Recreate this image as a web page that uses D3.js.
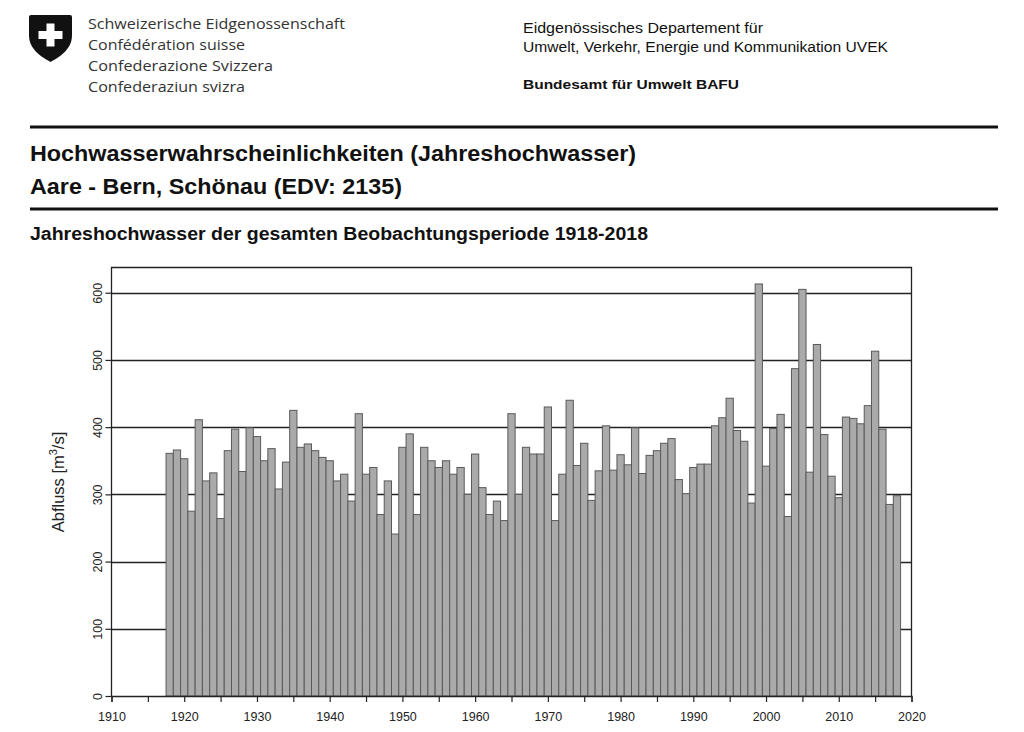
<!DOCTYPE html>
<html>
<head>
<meta charset="utf-8">
<script src="https://cdn.jsdelivr.net/npm/d3@7"></script>
<style>
  html, body { margin: 0; padding: 0; background: #fff; }
  svg { display: block; }
</style>
</head>
<body>
<svg id="chart" width="1024" height="732"></svg>
<script>
// ---------------- data ----------------
const years = d3.range(1918, 2019);
const peakFlow = [
  361, 366, 353, 275, 411, 320, 332, 264, 365, 397,
  334, 399, 386, 350, 368, 308, 348, 425, 370, 375,
  365, 355, 350, 320, 330, 290, 420, 330, 340, 270,
  320, 241, 370, 390, 270, 370, 350, 340, 350, 330,
  340, 300, 360, 310, 270, 290, 261, 420, 300, 370,
  360, 360, 430, 261, 330, 440, 343, 376, 291, 335,
  402, 336, 359, 344, 399, 331, 358, 365, 376, 383,
  322, 301, 340, 345, 345, 402, 414, 443, 395, 379,
  287, 613, 342, 398, 419, 267, 487, 605, 333, 523,
  389, 327, 295, 415, 413, 405, 432, 513, 397, 285,
  298
];
const xTicks = [1910, 1915, 1920, 1925, 1930, 1935, 1940, 1945, 1950, 1955, 1960, 1965, 1970, 1975, 1980, 1985, 1990, 1995, 2000, 2005, 2010, 2015, 2020];
const xLabelTicks = [1910, 1920, 1930, 1940, 1950, 1960, 1970, 1980, 1990, 2000, 2010, 2020];
const yTicks = [0, 100, 200, 300, 400, 500, 600];
const gridValues = [100, 200, 300, 400, 500, 600];

const headerLeft = ["Schweizerische Eidgenossenschaft", "Confédération suisse", "Confederazione Svizzera", "Confederaziun svizra"];
const headerRight = ["Eidgenössisches Departement für", "Umwelt, Verkehr, Energie und Kommunikation UVEK"];
const officeName = "Bundesamt für Umwelt BAFU";
const title1 = "Hochwasserwahrscheinlichkeiten (Jahreshochwasser)";
const title2 = "Aare - Bern, Schönau (EDV: 2135)";
const subtitle = "Jahreshochwasser der gesamten Beobachtungsperiode 1918-2018";

// ---------------- drawing ----------------
const svg = d3.select("#chart");
const sans = "'Liberation Sans', Arial, Helvetica, sans-serif";
const frut = "'Open Sans', 'Noto Sans', sans-serif";

// Swiss shield logo
const logo = svg.append("g");
logo.append("path")
  .attr("d", "M31,15 H70 Q72,15 72,17 V35 C72,49 61,56 50.5,62 C40,56 29,49 29,35 V17 Q29,15 31,15 Z")
  .attr("fill", "#111");
logo.append("path")
  .attr("d", "M46.5,23.5 H54.5 V31 H62.5 V39 H54.5 V46.5 H46.5 V39 H38.5 V31 H46.5 Z")
  .attr("fill", "#fff");

// header left
const hlLengths = [257, 157, 185, 157];
headerLeft.forEach((t, i) => {
  svg.append("text")
    .attr("x", 88).attr("y", 29 + i * 21)
    .attr("font-family", frut).attr("font-size", 14.5)
    .attr("fill", "#333")
    .attr("textLength", hlLengths[i]).attr("lengthAdjust", "spacingAndGlyphs")
    .text(t);
});

// header right
const hrLengths = [240, 365];
headerRight.forEach((t, i) => {
  svg.append("text")
    .attr("x", 523).attr("y", 33 + i * 18.5)
    .attr("font-family", sans).attr("font-size", 14)
    .attr("fill", "#111")
    .attr("textLength", hrLengths[i]).attr("lengthAdjust", "spacingAndGlyphs")
    .text(t);
});
svg.append("text")
  .attr("x", 523).attr("y", 88.5)
  .attr("font-family", sans).attr("font-size", 13).attr("font-weight", "bold")
  .attr("fill", "#111")
  .attr("textLength", 216).attr("lengthAdjust", "spacingAndGlyphs")
  .text(officeName);

// separator lines
[127, 209].forEach(y => {
  svg.append("line")
    .attr("x1", 30).attr("x2", 998).attr("y1", y).attr("y2", y)
    .attr("stroke", "#111").attr("stroke-width", 3);
});

// titles
svg.append("text")
  .attr("x", 30).attr("y", 161)
  .attr("font-family", sans).attr("font-size", 22.5).attr("font-weight", "bold")
  .attr("fill", "#111")
  .attr("textLength", 606).attr("lengthAdjust", "spacingAndGlyphs")
  .text(title1);
svg.append("text")
  .attr("x", 30).attr("y", 193.5)
  .attr("font-family", sans).attr("font-size", 22.5).attr("font-weight", "bold")
  .attr("fill", "#111")
  .attr("textLength", 372).attr("lengthAdjust", "spacingAndGlyphs")
  .text(title2);
svg.append("text")
  .attr("x", 30).attr("y", 240)
  .attr("font-family", sans).attr("font-size", 17.5).attr("font-weight", "bold")
  .attr("fill", "#111")
  .attr("textLength", 618).attr("lengthAdjust", "spacingAndGlyphs")
  .text(subtitle);

// ---------------- chart ----------------
const x = d3.scaleLinear().domain([1910, 2020]).range([111.5, 911.5]);
const y = d3.scaleLinear().domain([0, 613 * 1.04]).range([696, 267.5]);

const plot = svg.append("g");

// gridlines (behind bars)
plot.selectAll("line.grid").data(gridValues).enter().append("line")
  .attr("class", "grid")
  .attr("x1", x(1910)).attr("x2", x(2020))
  .attr("y1", d => Math.round(y(d)) + 0.5).attr("y2", d => Math.round(y(d)) + 0.5)
  .attr("stroke", "#222").attr("stroke-width", 1.4);

// bars
plot.selectAll("rect.bar").data(peakFlow).enter().append("rect")
  .attr("class", "bar")
  .attr("x", (d, i) => x(years[i] - 0.5))
  .attr("width", (d, i) => x(years[i] + 0.5) - x(years[i] - 0.5))
  .attr("y", d => y(d))
  .attr("height", d => y(0) - y(d))
  .attr("fill", "#aaaaaa")
  .attr("stroke", "#5a5a5a")
  .attr("stroke-width", 1);

// frame (left, top, right)
plot.append("path")
  .attr("d", `M${x(1910)},${y(0)} V${y.range()[1]} H${x(2020)} V${y(0)}`)
  .attr("fill", "none").attr("stroke", "#222").attr("stroke-width", 1.3);

// x axis
const xAxis = d3.axisBottom(x)
  .tickValues(xTicks)
  .tickSize(6)
  .tickFormat(d => xLabelTicks.includes(d) ? String(d) : "");
const gx = svg.append("g")
  .attr("transform", `translate(0,${y(0)})`)
  .call(xAxis);
gx.select(".domain").attr("stroke", "#222").attr("stroke-width", 1.3);
gx.selectAll(".tick line").attr("stroke", "#222").attr("stroke-width", 1.2);
gx.selectAll(".tick text")
  .attr("font-family", sans).attr("font-size", 12.5).attr("fill", "#222")
  .attr("dy", null).attr("y", 0).attr("transform", "translate(0,24.5)");

// y axis
const yAxis = d3.axisLeft(y).tickValues(yTicks).tickSize(6).tickFormat(d3.format("d"));
const gy = svg.append("g")
  .attr("transform", `translate(${x(1910)},0)`)
  .call(yAxis);
gy.select(".domain").remove();
gy.selectAll(".tick line").attr("stroke", "#222").attr("stroke-width", 1.2);
gy.selectAll(".tick text")
  .attr("font-family", sans).attr("font-size", 12.5).attr("fill", "#222")
  .attr("x", null).attr("dy", null)
  .attr("text-anchor", "middle")
  .attr("transform", "translate(-9.5,0) rotate(-90)");

// y label
const yl = svg.append("text")
  .attr("transform", "translate(64,482) rotate(-90)")
  .attr("text-anchor", "middle")
  .attr("font-family", sans).attr("font-size", 16.5).attr("fill", "#222");
yl.append("tspan").text("Abfluss  [m");
yl.append("tspan").attr("font-size", 11).attr("dy", -7).text("3");
yl.append("tspan").attr("dy", 7).text("/s]");
</script>
</body>
</html>
